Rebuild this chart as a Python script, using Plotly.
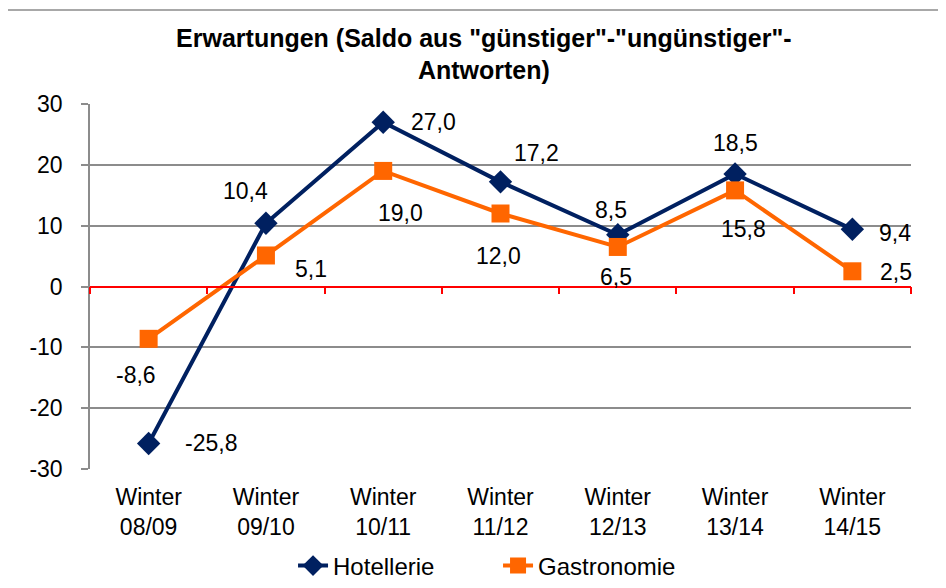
import plotly.graph_objects as go

categories = ["Winter<br>08/09", "Winter<br>09/10", "Winter<br>10/11", "Winter<br>11/12",
              "Winter<br>12/13", "Winter<br>13/14", "Winter<br>14/15"]
hotellerie = [-25.8, 10.4, 27.0, 17.2, 8.5, 18.5, 9.4]
gastronomie = [-8.6, 5.1, 19.0, 12.0, 6.5, 15.8, 2.5]
y_ticks = [-30, -20, -10, 0, 10, 20, 30]

# label offsets in pixels (label centre relative to marker)
hot_shift = [(62, 0), (-20, 32), (50, 0), (36, 29), (-7, 25), (0, 31), (43, -4)]
gas_shift = [(-13, -36), (45, -14), (17, -42), (-2, -42), (-2, -30), (8, -39), (44, -1)]

NAVY = "#002060"
ORANGE = "#FF6600"
GREY = "#8C8C8C"
FONT = "Liberation Sans, Arial, sans-serif"


def fmt(v):
    return f"{v:.1f}".replace(".", ",")


fig = go.Figure()

fig.add_trace(go.Scatter(
    x=categories, y=hotellerie, name="Hotellerie", mode="lines+markers",
    line=dict(color=NAVY, width=4),
    marker=dict(symbol="diamond", size=18, color=NAVY),
))
fig.add_trace(go.Scatter(
    x=categories, y=gastronomie, name="Gastronomie", mode="lines+markers",
    line=dict(color=ORANGE, width=4),
    marker=dict(symbol="square", size=18, color=ORANGE),
))
# helper trace so the zero-line axis with boundary ticks gets drawn
fig.add_trace(go.Scatter(
    x=categories, y=[0] * len(categories), xaxis="x2", mode="markers",
    marker=dict(opacity=0), showlegend=False, hoverinfo="skip",
))

for vals, shifts in ((hotellerie, hot_shift), (gastronomie, gas_shift)):
    for c, v, (dx, dy) in zip(categories, vals, shifts):
        fig.add_annotation(x=c, y=v, text=fmt(v), showarrow=False,
                           xshift=dx, yshift=dy,
                           font=dict(size=23, color="black", family=FONT))

# page body has an 8px default margin, so margins are shifted by 8px
fig.update_layout(
    width=946, height=588,
    margin=dict(l=82, r=43, t=96, b=127),
    paper_bgcolor="white", plot_bgcolor="white",
    font=dict(family=FONT, size=23, color="black"),
    title=dict(
        text="<b>Erwartungen (Saldo aus \"günstiger\"-\"ungünstiger\"-<br>Antworten)</b>",
        x=0.503, xanchor="center", y=0.934, yanchor="middle",
        font=dict(size=25, family=FONT),
    ),
    xaxis=dict(
        type="category", categoryarray=categories, range=[-0.5, 6.5],
        showline=False, showgrid=False, zeroline=False, ticks="",
        tickfont=dict(size=23), ticklabelstandoff=12, automargin=False,
    ),
    xaxis2=dict(
        type="category", categoryarray=categories, range=[-0.5, 6.5],
        overlaying="x", anchor="free", position=0.5,
        showline=True, linecolor="#FF0000", linewidth=1.5,
        ticks="outside", tickson="boundaries", ticklen=7, tickcolor="#FF0000",
        tickwidth=1.5, showticklabels=False, showgrid=False, zeroline=False,
        automargin=False,
    ),
    yaxis=dict(
        range=[-30, 30], tickvals=y_ticks, ticktext=[str(t) for t in y_ticks],
        showgrid=True, gridcolor=GREY, gridwidth=1.5,
        showline=True, linecolor=GREY, linewidth=1.5,
        ticks="outside", ticklen=7, tickcolor=GREY, tickwidth=1.5,
        zeroline=False, tickfont=dict(size=23), ticklabelstandoff=14,
        automargin=False,
    ),
    legend=dict(
        orientation="h", x=0.497, xanchor="center",
        yref="container", y=0.051, yanchor="middle",
        font=dict(size=24), entrywidth=160, tracegroupgap=0,
    ),
    shapes=[dict(
        type="rect", xref="paper", yref="paper",
        x0=-0.101, x1=1.2, y0=-0.5, y1=1.2575,
        line=dict(color=GREY, width=1.5), layer="below",
    )],
)

fig.write_html("out.html")
